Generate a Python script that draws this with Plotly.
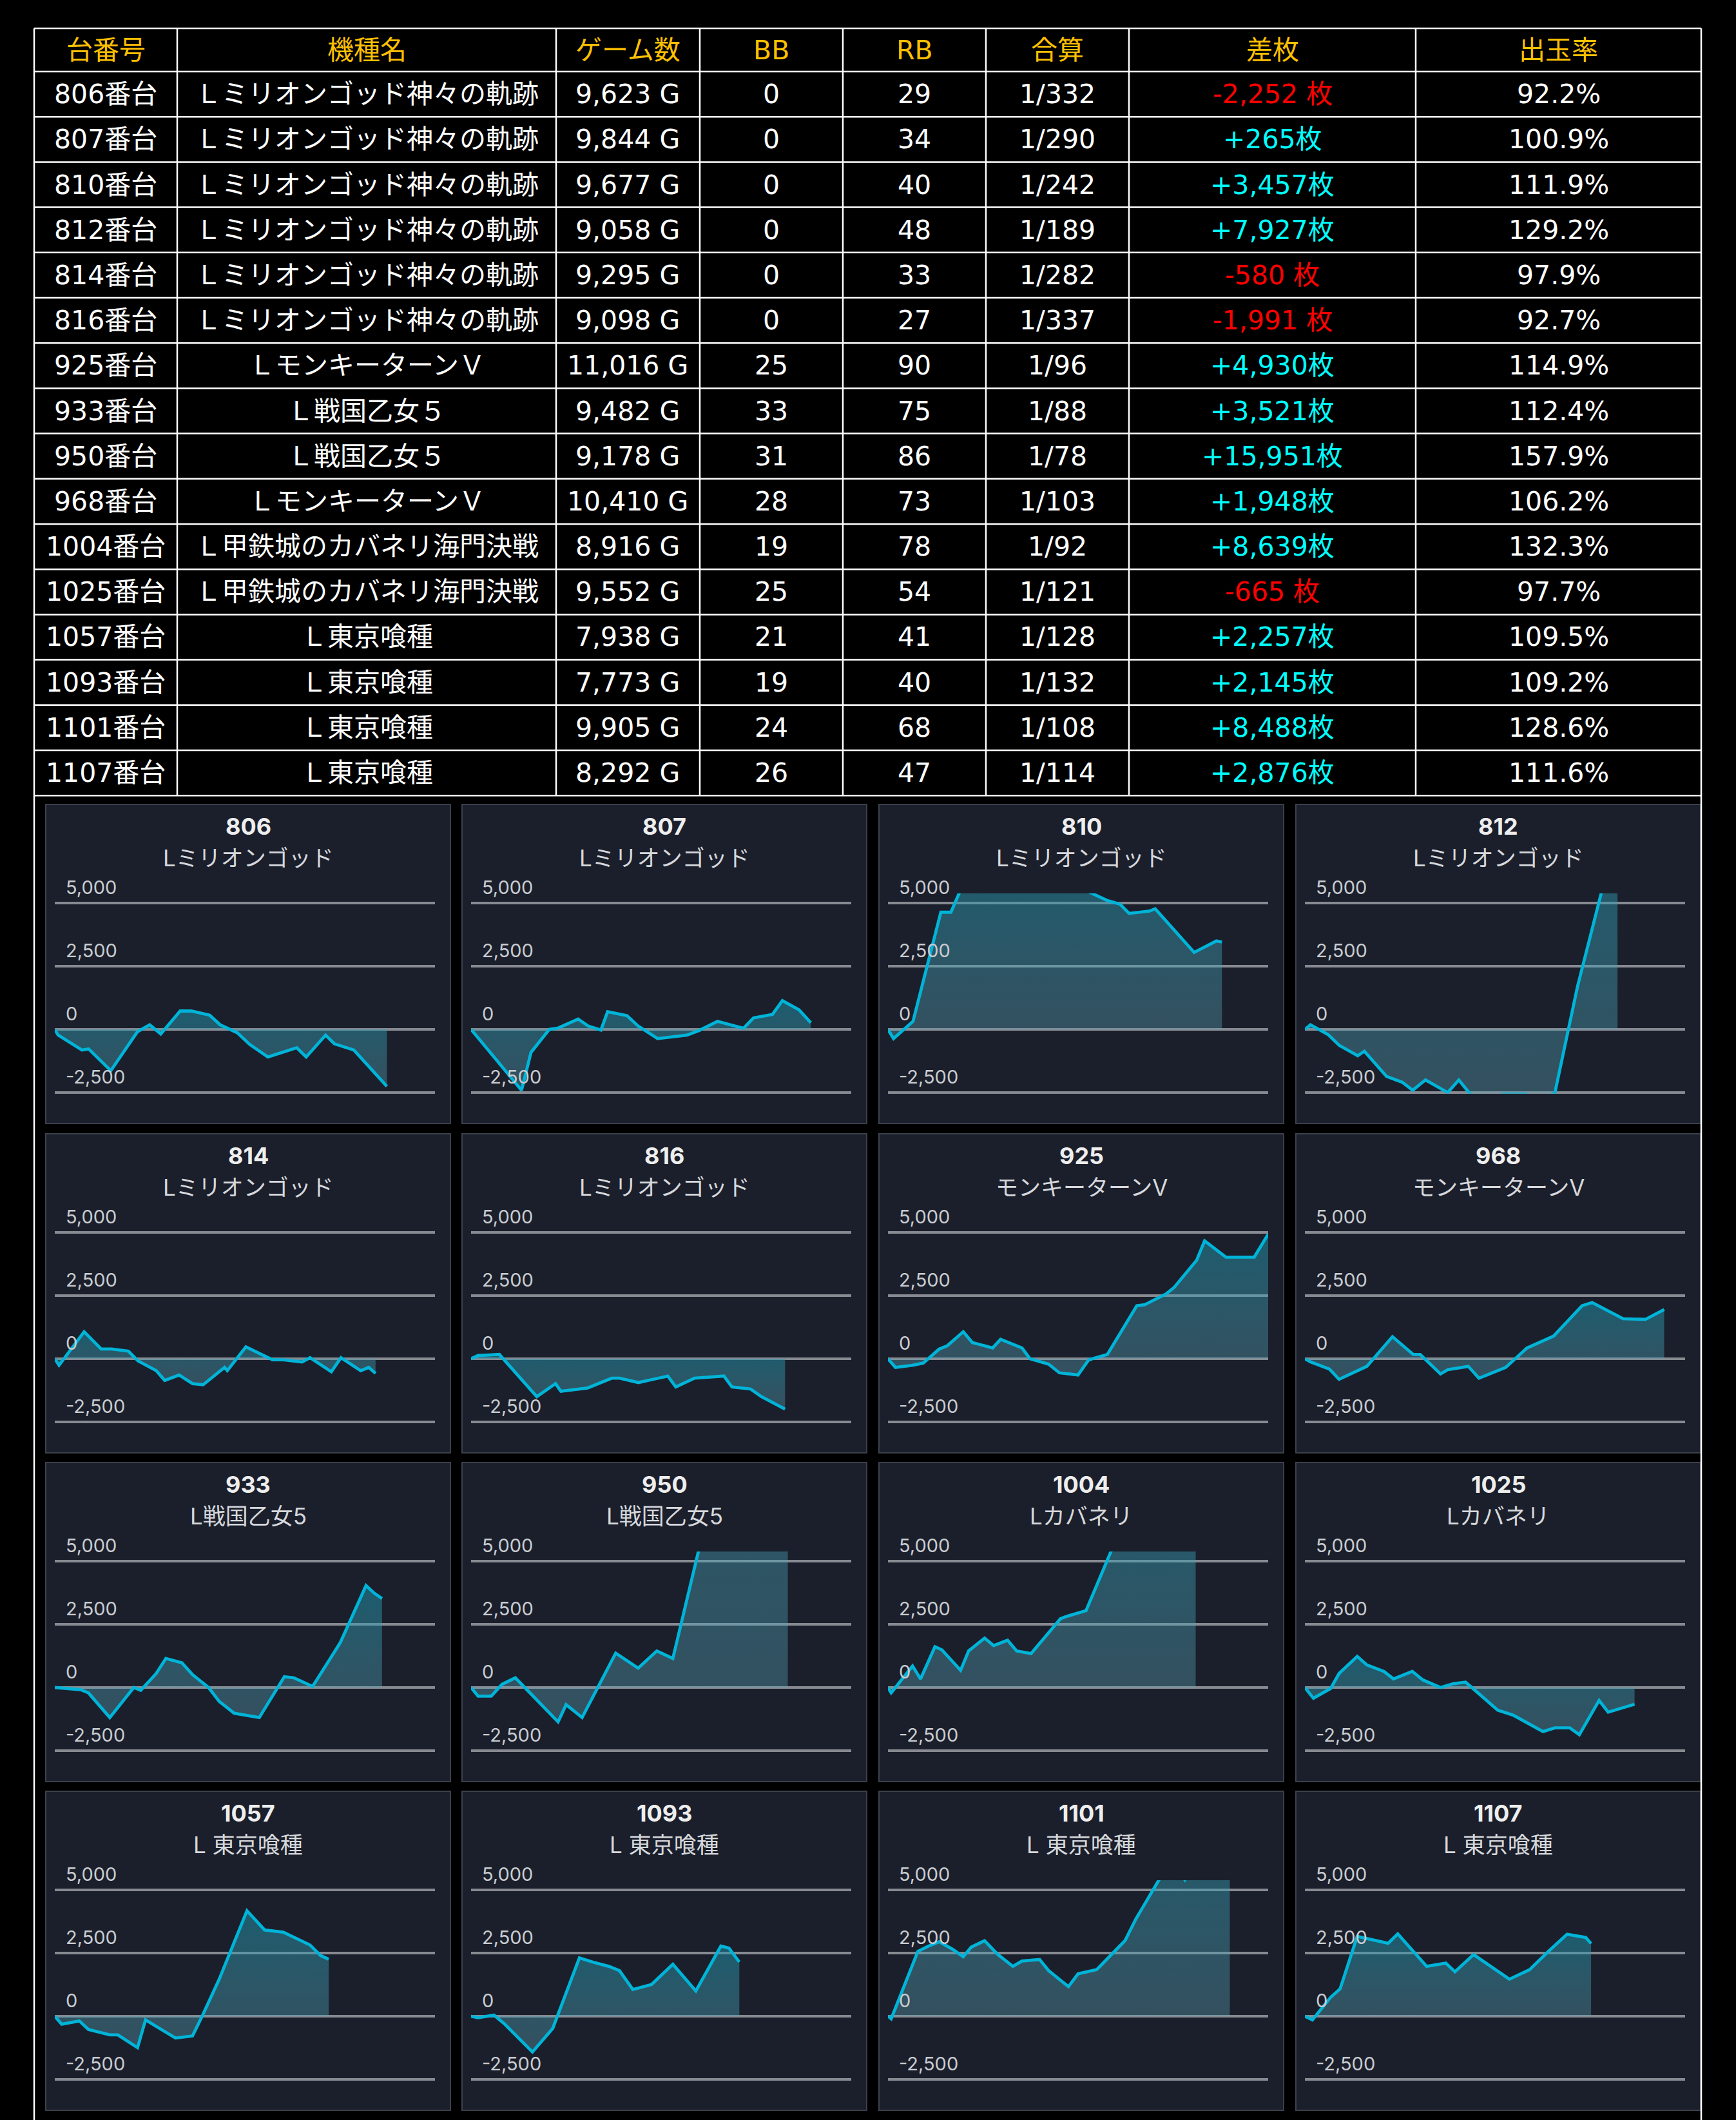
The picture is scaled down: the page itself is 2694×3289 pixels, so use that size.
import plotly.graph_objects as go
from plotly.subplots import make_subplots

W, H = 2694, 3289

# ---- table data ----
unit_no = ['806', '807', '810', '812', '814', '816', '925', '933', '950', '968',
           '1004', '1025', '1057', '1093', '1101', '1107']
machine = ['Ｌミリオンゴッド神々の軌跡'] * 6 + [
    'ＬモンキーターンＶ', 'Ｌ戦国乙女５', 'Ｌ戦国乙女５', 'ＬモンキーターンＶ',
    'Ｌ甲鉄城のカバネリ海門決戦', 'Ｌ甲鉄城のカバネリ海門決戦',
    'Ｌ東京喰種', 'Ｌ東京喰種', 'Ｌ東京喰種', 'Ｌ東京喰種']
games = [9623, 9844, 9677, 9058, 9295, 9098, 11016, 9482, 9178, 10410,
         8916, 9552, 7938, 7773, 9905, 8292]
bb = [0, 0, 0, 0, 0, 0, 25, 33, 31, 28, 19, 25, 21, 19, 24, 26]
rb = [29, 34, 40, 48, 33, 27, 90, 75, 86, 73, 78, 54, 41, 40, 68, 47]
gassan = ['1/332', '1/290', '1/242', '1/189', '1/282', '1/337', '1/96', '1/88',
          '1/78', '1/103', '1/92', '1/121', '1/128', '1/132', '1/108', '1/114']
diff = [-2252, 265, 3457, 7927, -580, -1991, 4930, 3521, 15951, 1948,
        8639, -665, 2257, 2145, 8488, 2876]
payout = ['92.2%', '100.9%', '111.9%', '129.2%', '97.9%', '92.7%', '114.9%', '112.4%',
          '157.9%', '106.2%', '132.3%', '97.7%', '109.5%', '109.2%', '128.6%', '111.6%']
header = ['台番号', '機種名', 'ゲーム数', 'BB', 'RB', '合算', '差枚', '出玉率']

# ---- slump graphs (x = games played, y = coin difference) ----
chart_order = ['806', '807', '810', '812', '814', '816', '925', '968',
               '933', '950', '1004', '1025', '1057', '1093', '1101', '1107']
chart_name = {'806': 'Lミリオンゴッド', '807': 'Lミリオンゴッド', '810': 'Lミリオンゴッド',
              '812': 'Lミリオンゴッド', '814': 'Lミリオンゴッド', '816': 'Lミリオンゴッド',
              '925': 'モンキーターンV', '968': 'モンキーターンV', '933': 'L戦国乙女5',
              '950': 'L戦国乙女5', '1004': 'Lカバネリ', '1025': 'Lカバネリ',
              '1057': 'L 東京喰種', '1093': 'L 東京喰種', '1101': 'L 東京喰種', '1107': 'L 東京喰種'}

g806 = [0, 96, 788, 981, 1624, 2396, 2750, 3071, 3634, 3956, 4487, 4792, 5290, 5644, 6175, 7011, 7284, 7847, 8104, 8667, 9623]
d806 = [0, -227, -818, -773, -1636, -91, 182, -182, 727, 727, 564, 182, -136, -591, -1091, -727, -1091, -227, -573, -818, -2252]
g807 = [0, 1463, 1737, 2267, 2508, 3103, 3393, 3763, 3956, 4518, 4840, 5403, 6255, 6609, 7140, 7895, 8185, 8731, 9021, 9503, 9844]
d807 = [0, -2409, -909, 0, 45, 409, 136, -27, 700, 545, 136, -364, -227, -45, 318, 45, 455, 591, 1136, 773, 265]
g810 = [0, 161, 726, 1532, 1823, 2258, 3307, 4597, 5726, 6371, 6726, 6984, 7581, 7742, 8871, 9516, 9677]
d810 = [0, -364, 318, 4636, 4636, 6000, 6700, 6400, 5500, 5091, 4955, 4591, 4682, 4773, 3045, 3500, 3457]
g812 = [0, 161, 676, 998, 1530, 1723, 2367, 2818, 3123, 3494, 4138, 4460, 4782, 5265, 5748, 6392, 6794, 7245, 7900, 8565, 9058]
d812 = [0, 182, -209, -636, -1045, -864, -1864, -2091, -2409, -2000, -2500, -2000, -2545, -2900, -2560, -2560, -2900, -2500, 1700, 5390, 7927]
g814 = [0, 124, 851, 1346, 1655, 2135, 2413, 2939, 3187, 3604, 3991, 4300, 4920, 4998, 5538, 6312, 6621, 7163, 7395, 8013, 8292, 8864, 9096, 9295]
d814 = [0, -257, 1070, 385, 385, 300, -86, -471, -856, -642, -984, -1027, -342, -471, 471, -43, -43, -128, 43, -514, 43, -471, -342, -580]
g816 = [0, 201, 821, 1905, 2448, 2603, 3377, 4074, 4306, 4849, 5700, 5933, 6475, 7327, 7559, 8101, 8411, 9098]
d816 = [0, 128, 171, -1498, -984, -1284, -1156, -770, -770, -942, -685, -1113, -770, -685, -1113, -1198, -1498, -1991]
g925 = [0, 217, 712, 1021, 1485, 1717, 2181, 2444, 3032, 3264, 3883, 4115, 4656, 4966, 5507, 5817, 6358, 7209, 7441, 8060, 8292, 8942, 9174, 9793, 10612, 11016]
d925 = [0, -342, -257, -171, 385, 514, 1070, 642, 428, 770, 428, 0, -214, -556, -642, -43, 171, 2097, 2140, 2568, 2825, 3895, 4665, 4023, 4023, 4930]
g968 = [0, 170, 712, 990, 1795, 2537, 3140, 3342, 3929, 4146, 4734, 5043, 5817, 6435, 7209, 8029, 8323, 9220, 9870, 10410]
d968 = [0, -128, -411, -813, -300, 873, 171, 171, -599, -428, -300, -770, -342, 428, 899, 2097, 2226, 1584, 1558, 1948]
g933 = [0, 743, 975, 1594, 2290, 2491, 2939, 3218, 3682, 3991, 4455, 4765, 5198, 5925, 6652, 6930, 7472, 8276, 9019, 9251, 9482]
d933 = [0, -85, -213, -1190, 0, -111, 553, 1148, 978, 510, 0, -553, -1020, -1190, 425, 383, 43, 1785, 4038, 3740, 3521]
g950 = [0, 201, 588, 898, 1284, 2522, 2754, 3218, 4192, 4842, 5383, 5847, 6590, 7600, 8500, 9178]
d950 = [0, -340, -340, 128, 383, -1360, -680, -1190, 1360, 765, 1445, 1148, 5398, 10500, 14000, 15951]
g1004 = [0, 93, 712, 944, 1361, 1563, 2104, 2336, 2800, 3063, 3465, 3728, 4146, 4997, 5198, 5739, 6466, 7600, 8916]
d1004 = [0, -213, 850, 340, 1615, 1488, 680, 1445, 1955, 1658, 1870, 1445, 1343, 2720, 2822, 3043, 5398, 7300, 8639]
g1025 = [0, 248, 743, 990, 1516, 1795, 2290, 2568, 3110, 3419, 3929, 4300, 4656, 5585, 6049, 6900, 7240, 7673, 7952, 8524, 8787, 9552]
d1025 = [0, -425, -43, 553, 1233, 893, 638, 340, 638, 298, 0, 153, 213, -893, -1105, -1743, -1598, -1598, -1870, -510, -978, -665]
g1057 = [0, 201, 712, 975, 1594, 1826, 2398, 2630, 3497, 3991, 4270, 4765, 5569, 6080, 6621, 6930, 7394, 7704, 7938]
d1057 = [0, -313, -186, -525, -737, -737, -1245, -144, -864, -779, 0, 1465, 4176, 3413, 3329, 3117, 2821, 2397, 2257]
g1093 = [0, 201, 666, 975, 1779, 2367, 3140, 3527, 3991, 4300, 4687, 5229, 5847, 6513, 7240, 7472, 7773]
d1093 = [0, -59, 42, -313, -1415, -483, 2312, 2143, 1974, 1804, 1059, 1254, 2058, 1000, 2778, 2694, 2145]
g1101 = [0, 93, 866, 1176, 1485, 1872, 2181, 2413, 2800, 3187, 3620, 3883, 4393, 4656, 5229, 5507, 6049, 6868, 7178, 7828, 8200, 8601, 9300, 9905]
d1101 = [0, -102, 2567, 2778, 2948, 2651, 2355, 2736, 2990, 2439, 1974, 2185, 2245, 1804, 1169, 1677, 1846, 2990, 3837, 5360, 6200, 5400, 7000, 8488]
g1107 = [0, 217, 743, 1021, 1516, 2413, 2691, 3527, 4084, 4347, 4889, 5817, 5925, 6513, 7054, 7596, 8137, 8292]
d1107 = [0, -144, 745, 1084, 3159, 2888, 3261, 1973, 2100, 1762, 2439, 1533, 1465, 1846, 2566, 3244, 3117, 2876]

slump_x = {'806': g806, '807': g807, '810': g810, '812': g812, '814': g814, '816': g816,
           '925': g925, '968': g968, '933': g933, '950': g950, '1004': g1004, '1025': g1025,
           '1057': g1057, '1093': g1093, '1101': g1101, '1107': g1107}
slump_y = {'806': d806, '807': d807, '810': d810, '812': d812, '814': d814, '816': d816,
           '925': d925, '968': d968, '933': d933, '950': d950, '1004': d1004, '1025': d1025,
           '1057': d1057, '1093': d1093, '1101': d1101, '1107': d1107}

y_ticks = [-2500, 0, 2500, 5000]
y_tick_text = ['-2,500', '0', '2,500', '5,000']

TABLE_FONT = 'DejaVu Sans, Noto Sans CJK JP'
CHART_FONT = 'Inter, Noto Sans CJK JP'


def px(x):
    return x / W


def py(y):
    return 1 - y / H


fig = make_subplots(rows=4, cols=4)

# ---- table ----
col_edges = [53, 275, 863, 1086, 1308, 1530, 1752, 2197, 2640]
table_top, header_h, row_h = 44, 67, 70.2
row_edges = [table_top, table_top + header_h] + [table_top + header_h + row_h * (i + 1) for i in range(len(unit_no))]
table_bottom = row_edges[-1]

shapes = []
annotations = []
line_style = dict(color='white', width=2.5)
for y in row_edges:
    shapes.append(dict(type='line', xref='paper', yref='paper', x0=px(col_edges[0]), x1=px(col_edges[-1]),
                       y0=py(y), y1=py(y), line=line_style))
for i, x in enumerate(col_edges):
    bottom = H if i in (0, len(col_edges) - 1) else table_bottom
    shapes.append(dict(type='line', xref='paper', yref='paper', x0=px(x), x1=px(x),
                       y0=py(table_top), y1=py(bottom), line=line_style))


def cell(text, ci, yc, color):
    annotations.append(dict(text=text, xref='paper', yref='paper', x=px((col_edges[ci] + col_edges[ci + 1]) / 2),
                            y=py(yc), xanchor='center', yanchor='middle', showarrow=False,
                            font=dict(family=TABLE_FONT, size=41, color=color)))


for ci, h in enumerate(header):
    cell(h, ci, (row_edges[0] + row_edges[1]) / 2, '#FFC000')

for r in range(len(unit_no)):
    yc = (row_edges[r + 1] + row_edges[r + 2]) / 2
    d = diff[r]
    d_text = f'+{d:,}枚' if d > 0 else f'{d:,} 枚'
    d_color = '#00FFFF' if d > 0 else '#FF0000'
    values = [f'{unit_no[r]}番台', machine[r], f'{games[r]:,} G', str(bb[r]), str(rb[r]), gassan[r], d_text, payout[r]]
    for ci, v in enumerate(values):
        cell(v, ci, yc, d_color if ci == 6 else 'white')

# ---- slump panels ----
panel_left = [71, 717, 1364, 2011]
panel_top = [1248, 1759, 2269, 2779]
panel_w, panel_h = 628, 495
y_lo, y_hi = -2540, 5380
k = 98 / 2500  # px per coin
x_max = max(games)

for idx, unit in enumerate(chart_order):
    r, c = idx // 4, idx % 4
    pl, pt = panel_left[c], panel_top[r]
    shapes.append(dict(type='rect', xref='paper', yref='paper', layer='below',
                       x0=px(pl), x1=px(pl + panel_w), y0=py(pt), y1=py(pt + panel_h),
                       fillcolor='#1b1f2b', line=dict(color='#3b404b', width=2)))
    zero_y = pt + 349
    fig.update_xaxes(domain=[px(pl + 14), px(pl + 604)], range=[0, x_max], visible=False,
                     automargin=False, row=r + 1, col=c + 1)
    fig.update_yaxes(domain=[py(zero_y - y_lo * k), py(zero_y - y_hi * k)], range=[y_lo, y_hi],
                     tickvals=y_ticks, ticktext=y_tick_text, ticklabelposition='inside top',
                     ticklabeloverflow='allow', ticklabelstandoff=14, ticklabelshift=-4,
                     tickfont=dict(family=CHART_FONT, size=29, color='#c9ccd1'),
                     showgrid=True, gridcolor='#878a91', gridwidth=3.5, zeroline=False,
                     showline=False, ticks='', automargin=False, row=r + 1, col=c + 1)
    fig.add_trace(go.Scatter(
        x=slump_x[unit], y=slump_y[unit], mode='lines', fill='tozeroy',
        line=dict(color='#00b4d8', width=4.8),
        fillgradient=dict(type='vertical',
                          colorscale=[[0, 'rgba(98,171,191,0.35)'], [1, 'rgba(29,153,177,0.5)']]),
        hoverinfo='skip', showlegend=False), row=r + 1, col=c + 1)
    annotations.append(dict(text=f'<b>{unit}</b>', xref='paper', yref='paper', x=px(pl + panel_w / 2),
                            y=py(pt + 34), xanchor='center', yanchor='middle', showarrow=False,
                            font=dict(family=CHART_FONT, size=36, color='#eeeeee')))
    annotations.append(dict(text=chart_name[unit], xref='paper', yref='paper', x=px(pl + panel_w / 2),
                            y=py(pt + 83), xanchor='center', yanchor='middle', showarrow=False,
                            font=dict(family=CHART_FONT, size=35, color='#d6d8dc')))

fig.update_layout(width=W, height=H, margin=dict(l=0, r=0, t=0, b=0, autoexpand=False),
                  paper_bgcolor='black', plot_bgcolor='rgba(0,0,0,0)',
                  shapes=shapes, annotations=annotations, showlegend=False)
# drop the default page margin so the figure sits flush at the top-left corner
fig.write_html('out.html', config={'displayModeBar': False},
               post_script="document.body.style.margin='0';document.body.style.background='black';")
